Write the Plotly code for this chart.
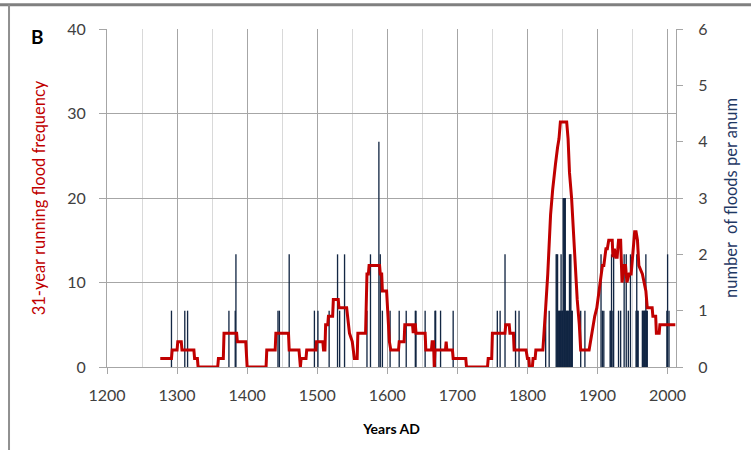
import plotly.graph_objects as go

# ---- data ----
flood_years = [1292, 1311, 1315, 1374, 1383, 1384, 1444, 1446, 1460,
               1496, 1501, 1517, 1529, 1532, 1539, 1571, 1576, 1588, 1590, 1593,
               1604, 1617, 1627, 1640, 1641, 1654, 1668, 1669, 1676, 1694,
               1757, 1761, 1768, 1783, 1788,
               1826, 1831, 1841, 1842, 1843, 1844, 1845, 1846, 1847, 1848, 1849,
               1850, 1851, 1852, 1853, 1854, 1855, 1856, 1857, 1858, 1859, 1860,
               1861, 1862, 1863, 1864, 1876, 1882,
               1905, 1907, 1909, 1918, 1919, 1920, 1922, 1923, 1930, 1933, 1938,
               1941, 1944, 1947, 1955, 1956, 1957, 1958, 1964, 1965, 1966, 1967,
               1968, 1969, 1970, 1971, 1999, 2000, 2002]
flood_counts = [1, 1, 1, 1, 1, 2, 1, 1, 2,
                1, 1, 1, 2, 1, 2, 1, 2, 4, 2, 1,
                1, 1, 1, 1, 1, 1, 1, 1, 1, 1,
                1, 1, 2, 1, 1,
                1, 1, 2, 2, 2, 1, 1, 1, 1, 2, 1,
                1, 3, 3, 3, 3, 1, 1, 1, 1, 1, 2,
                2, 2, 1, 1, 1, 1,
                2, 1, 1, 1, 1, 2, 1, 2, 1, 1, 2,
                2, 1, 2, 1, 2, 1, 1, 1, 1, 1, 1,
                1, 2, 1, 1, 1, 2, 1]

run_years = [1276, 1292, 1293, 1300, 1301, 1306, 1307, 1324, 1325, 1329, 1330, 1358,
             1359, 1366, 1367, 1385, 1386, 1398, 1400, 1427, 1428, 1440, 1441, 1459,
             1460, 1474, 1476, 1477, 1484, 1485, 1498, 1499, 1508, 1509, 1511, 1512,
             1515, 1516, 1522, 1523, 1530, 1531, 1542, 1546, 1550, 1552, 1553, 1557,
             1558, 1569, 1571, 1573, 1574, 1589, 1590, 1592, 1593, 1599, 1601, 1603,
             1605, 1616, 1617, 1624, 1625, 1636, 1637, 1638, 1640, 1641, 1654, 1655,
             1663, 1664, 1666, 1667, 1668, 1683, 1684, 1685, 1693, 1694, 1712, 1713,
             1743, 1744, 1749, 1750, 1768, 1769, 1774, 1775, 1780, 1781, 1798, 1800,
             1802, 1803, 1807, 1808, 1811, 1812, 1822, 1824, 1826, 1829, 1831, 1833,
             1836, 1838, 1840, 1843, 1845, 1847, 1856, 1858, 1860, 1863, 1865, 1867,
             1869, 1871, 1874, 1876, 1888, 1890, 1893, 1896, 1899, 1902, 1905, 1907,
             1909, 1912, 1914, 1916, 1921, 1922, 1924, 1926, 1928, 1930, 1933, 1935,
             1938, 1940, 1942, 1945, 1948, 1950, 1953, 1955, 1957, 1959, 1964, 1969,
             1971, 1978, 1979, 1983, 1984, 1988, 1989, 2011]
run_vals = [1, 1, 2, 2, 3, 3, 2, 2, 1, 1, 0, 0,
            1, 1, 4, 4, 3, 3, 0, 0, 2, 2, 4, 4,
            2, 2, 0, 1, 1, 2, 2, 3, 3, 2, 2, 5,
            5, 6, 6, 8, 8, 7, 7, 4, 3, 2, 1, 1,
            4, 4, 11, 11, 12, 12, 11, 11, 9, 9, 5, 3,
            2, 2, 3, 3, 5, 5, 4, 5, 5, 4, 4, 2,
            2, 3, 3, 0, 2, 2, 3, 2, 2, 1, 1, 0,
            0, 1, 1, 4, 4, 5, 5, 4, 4, 2, 2, 1,
            1, 0, 0, 1, 1, 2, 2, 4, 7, 11, 15, 18,
            21, 23, 24, 26, 27, 29, 29, 27, 23, 20, 17, 13,
            11, 8, 5, 2, 2, 3, 5, 6, 7, 9, 11, 12,
            12, 14, 14, 15, 15, 13, 14, 13, 13, 15, 15, 10,
            12, 12, 10, 11, 11, 13, 16, 16, 15, 12, 11, 9,
            7, 7, 6, 6, 4, 4, 5, 5]

x_ticks = [1200, 1300, 1400, 1500, 1600, 1700, 1800, 1900, 2000]

FONT = "Lato"
GRID = "#a6a6a6"
TXT = "#404040"
BAR = "rgba(16,36,66,0.99)"
RED = "#C00000"

fig = go.Figure()
fig.add_trace(go.Bar(
    x=flood_years, y=flood_counts, width=1.9,
    marker=dict(color=BAR, line=dict(width=0)),
    yaxis="y", name="number of floods per anum"))
fig.add_trace(go.Scatter(
    x=run_years, y=run_vals, mode="lines",
    line=dict(color=RED, width=3),
    yaxis="y2", name="31-year running flood frequency"))

fig.update_layout(
    width=751, height=450,
    margin=dict(l=107, r=75, t=29, b=83),
    paper_bgcolor="white", plot_bgcolor="white",
    showlegend=False,
    font=dict(family=FONT, color=TXT),
    xaxis=dict(
        range=[1200, 2012], tickvals=x_ticks,
        showgrid=True, gridcolor=GRID, gridwidth=1,
        minor=dict(dtick=50, tick0=1200, showgrid=True, gridcolor="#d9d9d9", ticks=""),
        ticks="outside", ticklen=6, tickcolor=GRID,
        showline=True, linecolor=GRID, zeroline=False,
        tickfont=dict(family=FONT, size=16, color=TXT),
        ticklabelstandoff=8,
        title=dict(text="<b>Years AD</b>", font=dict(family=FONT, size=14, color="black"),
                   standoff=20),
    ),
    yaxis=dict(
        side="right", range=[0, 6], dtick=1,
        showgrid=False, zeroline=False,
        showline=True, linecolor=GRID,
        ticks="outside", ticklen=6, tickcolor=GRID,
        tickfont=dict(family=FONT, size=16, color=TXT),
        ticklabelstandoff=12,
        title=dict(text="number  of floods per anum",
                   font=dict(family=FONT, size=16.5, color="#1F3864"), standoff=18),
    ),
    yaxis2=dict(
        overlaying="y", side="left", range=[0, 40], dtick=10,
        showgrid=True, gridcolor=GRID, zeroline=False,
        showline=True, linecolor=GRID,
        ticks="outside", ticklen=7, tickcolor=GRID,
        tickfont=dict(family=FONT, size=16, color=TXT),
        ticklabelstandoff=10,
        title=dict(text="31-year running flood frequency",
                   font=dict(family=FONT, size=16.5, color=RED), standoff=17),
    ),
    bargap=0.2,
)

# panel frame (top and left border of the figure panel)
fig.add_shape(type="line", xref="paper", yref="paper",
              x0=-0.19, x1=1.135, y0=1.072, y1=1.072,
              line=dict(color="#808080", width=3))
fig.add_shape(type="line", xref="paper", yref="paper",
              x0=-0.1722, x1=-0.1722, y0=1.072, y1=-0.25,
              line=dict(color="#909090", width=2))

fig.add_annotation(text="<b>B</b>", xref="paper", yref="paper",
                   x=(37 - 107) / 569, y=(367 - 36) / 338,
                   showarrow=False, xanchor="center", yanchor="middle",
                   font=dict(family=FONT, size=19, color="black"))

fig.write_html("out.html")
